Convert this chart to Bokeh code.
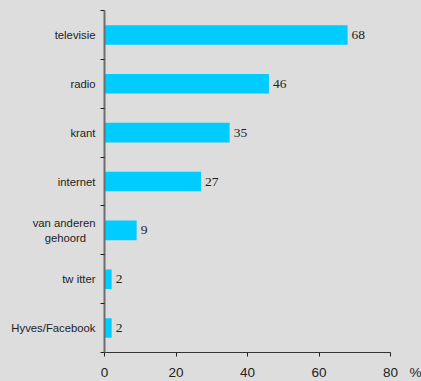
from bokeh.plotting import figure
from bokeh.models import Range1d, FixedTicker, Label, ColumnDataSource
from bokeh.embed import file_html
from bokeh.resources import INLINE

# data (bottom to top)
categories = ["Hyves/Facebook", "twitter", "van anderen gehoord", "internet", "krant", "radio", "televisie"]
shown_names = ["Hyves/Facebook", "tw itter", "van anderen\ngehoord\u00a0\u00a0\u00a0", "internet", "krant", "radio", "televisie"]
values = [2, 2, 9, 27, 35, 46, 68]
x_ticks = [0, 20, 40, 60, 80]
unit_label = "%"

# layout constants (pixels): where the axes sit in the 421x381 canvas
W, H = 421, 381
AX_LEFT, AX_RIGHT, AX_TOP, AX_BOTTOM = 104, 390, 10, 352
XMAX = x_ticks[-1]
N = len(categories)
px_x = (AX_RIGHT - AX_LEFT) / XMAX
px_y = (AX_BOTTOM - AX_TOP) / N

ypos = [i + 0.5 for i in range(N)]
src = ColumnDataSource(dict(y=ypos, v=values, lab=[str(v) for v in values]))

FONT = "Liberation Sans"
BG = "#dddddd"
TXT = "#222222"

p = figure(width=W, height=H, output_backend="svg", toolbar_location=None,
           x_range=Range1d(-AX_LEFT / px_x, (W - AX_LEFT) / px_x),
           y_range=Range1d(-(H - AX_BOTTOM) / px_y, N + AX_TOP / px_y),
           min_border=0)
p.background_fill_color = BG
p.border_fill_color = BG
p.outline_line_color = None
p.grid.visible = False

p.hbar(y="y", right="v", left=0, height=0.4, source=src, fill_color="#00ccff", line_color=None)
p.text(x="v", y="y", text="lab", source=src, x_offset=4, text_baseline="middle",
       text_font=FONT, text_font_size="13.5px", text_color=TXT)

# y axis: labels at category centres, ticks at boundaries
ya = p.yaxis[0]
ya.fixed_location = 0
ya.bounds = (0, N)
ya.ticker = FixedTicker(ticks=ypos, minor_ticks=list(range(N + 1)))
ya.major_label_overrides = {y: n for y, n in zip(ypos, shown_names)}
ya.major_tick_out = 0
ya.major_tick_in = 0
ya.minor_tick_out = 4
ya.minor_tick_in = 0
ya.minor_tick_line_color = TXT
ya.axis_line_color = "#6e6e6e"
ya.axis_line_width = 2
ya.major_label_standoff = 5
ya.major_label_text_font = FONT
ya.major_label_text_font_size = "11.3px"
ya.major_label_text_color = TXT

xa = p.xaxis[0]
xa.fixed_location = 0
xa.bounds = (0, XMAX)
xa.ticker = FixedTicker(ticks=x_ticks)
xa.major_tick_out = 4
xa.major_tick_in = 0
xa.minor_tick_out = 0
xa.minor_tick_in = 0
xa.major_tick_line_color = TXT
xa.axis_line_color = "#333333"
xa.major_label_standoff = 11
xa.major_label_text_font = FONT
xa.major_label_text_font_size = "13.5px"
xa.major_label_text_color = TXT

pct = Label(x=XMAX, y=0, x_offset=19, y_offset=-20, text=unit_label, text_baseline="middle",
            text_align="left", text_font=FONT, text_font_size="13.5px", text_color=TXT)
p.add_layout(pct)

html = file_html(p, INLINE)
html = html.replace("<head>", "<head><style>html,body{background:#dddddd;margin:0;overflow:hidden;}</style>", 1)
open("out.html", "w").write(html)
